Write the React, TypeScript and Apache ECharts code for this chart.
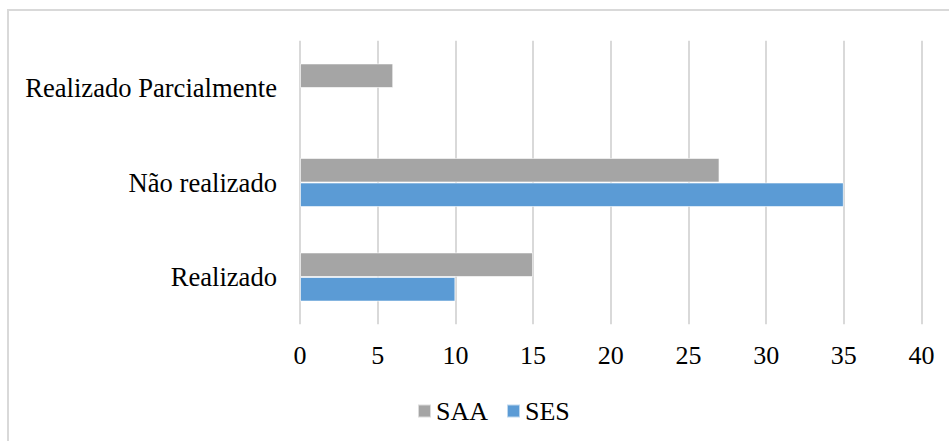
import React, { useEffect, useRef } from "react";
import * as echarts from "echarts";

const categories = ["Realizado", "Não realizado", "Realizado Parcialmente"];
const saaValues: (number | null)[] = [15, 27, 6];
const sesValues: (number | null)[] = [10, 35, null];
const xTicks = { min: 0, max: 40, interval: 5 };

const FONT = "Liberation Serif";

export default function App() {
  const ref = useRef<HTMLDivElement>(null);
  useEffect(() => {
    if (!ref.current) return;
    const chart = echarts.init(ref.current, null, { renderer: "svg" });
    chart.setOption({
      animation: false,
      backgroundColor: "#ffffff",
      graphic: [
        {
          type: "rect",
          shape: { x: 8, y: 10, width: 1000, height: 500 },
          style: { fill: "none", stroke: "#d9d9d9", lineWidth: 2 },
          silent: true,
          z: -10,
        },
      ],
      grid: { left: 300, right: 27.5, top: 40.75, height: 283.5, containLabel: false },
      legend: {
        data: ["SAA", "SES"],
        left: 412,
        top: 393,
        itemWidth: 13,
        itemHeight: 13,
        itemGap: 18,
        icon: "rect",
        textStyle: { fontFamily: FONT, fontSize: 26, color: "#000" },
      },
      xAxis: {
        type: "value",
        min: xTicks.min,
        max: xTicks.max,
        interval: xTicks.interval,
        axisLine: { show: false },
        axisTick: { show: false },
        splitLine: { show: true, lineStyle: { color: "#d9d9d9", width: 2 } },
        axisLabel: { fontFamily: FONT, fontSize: 26, color: "#000", margin: 18 },
      },
      yAxis: {
        type: "category",
        data: categories,
        axisLine: { show: false },
        axisTick: { show: false },
        splitLine: { show: false },
        axisLabel: { fontFamily: FONT, fontSize: 26.6, color: "#000", margin: 23 },
      },
      series: [
        {
          name: "SAA",
          type: "bar",
          data: saaValues,
          barGap: "0%",
          barCategoryGap: "48%",
          itemStyle: { color: "#a5a5a5", borderColor: "rgba(255,255,255,0.6)", borderWidth: 1 },
        },
        {
          name: "SES",
          type: "bar",
          data: sesValues,
          barGap: "0%",
          barCategoryGap: "48%",
          itemStyle: { color: "#5b9bd5", borderColor: "rgba(255,255,255,0.6)", borderWidth: 1 },
        },
      ],
    });
    return () => chart.dispose();
  }, []);
  return (
    <div
      ref={ref}
      style={{ position: "fixed", left: 0, top: 0, width: 949, height: 441 }}
    />
  );
}
